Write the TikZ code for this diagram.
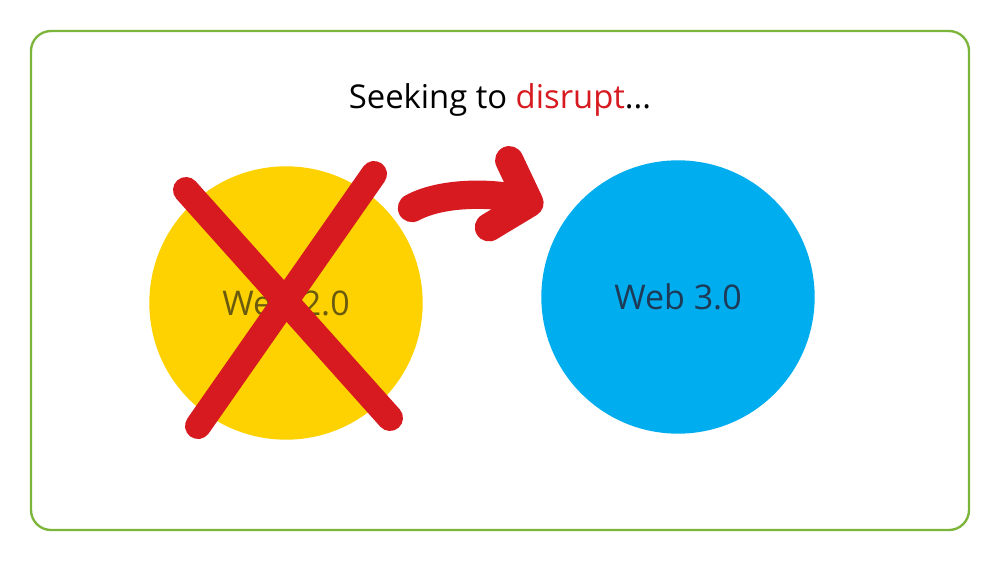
\documentclass[tikz,border=0pt]{standalone}
\usepackage{fontspec}
\setmainfont{Open Sans}
\usepackage{xcolor}
\usepackage{tikz}
\usetikzlibrary{
  arrows.meta,
  positioning,
  calc
}
\definecolor{FrameGreen}{HTML}{7DB53A}
\definecolor{CrayonYellow}{HTML}{FED100}
\definecolor{CrayonBlue}{HTML}{00ADEE}
\definecolor{CrayonRed}{HTML}{D71920}
\definecolor{DarkOlive}{HTML}{6A5A10}
\definecolor{DarkNavy}{HTML}{1D3A57}
\tikzset{
  frame/.style={
    draw=FrameGreen,
    line width=2pt,
    rounded corners=0.6cm
  },
  blob/.style={
    circle,
    inner sep=0pt,
    minimum size=8.2cm,
    font=\fontsize{29}{34}\selectfont
  },
  oldweb/.style={
    blob,
    fill=CrayonYellow,
    text=DarkOlive
  },
  newweb/.style={
    blob,
    fill=CrayonBlue,
    text=DarkNavy
  },
  crossout/.style={
    draw=CrayonRed,
    line width=0.78cm,
    line cap=round
  },
  bigarrow/.style={
    draw=CrayonRed,
    line width=0.85cm,
    line cap=round,
    line join=round,
    -{Straight Barb[length=0.95cm,width=2.1cm,round]}
  }
}
\begin{document}
\begin{tikzpicture}[x=0.03cm,y=-0.03cm]

  \useasboundingbox (0,0) rectangle (1000,563);

  \draw[frame] (31,31) rectangle (969,530);

  \node[
    font=\fontsize{28}{33}\selectfont
  ] (title) at (500,100) {
    Seeking to \textcolor{CrayonRed}{disrupt}...
  };

  \node[oldweb] (web2) at (286,303) {Web 2.0};

  \node[newweb] (web3) at (678,297) {Web 3.0};

  % the cross over the old web
  \coordinate (crossA) at (186,190);
  \coordinate (crossB) at (390,418);
  \coordinate (crossC) at (374,174);
  \coordinate (crossD) at (198,426);
  \draw[crossout] (crossA) -- (crossB);
  \draw[crossout] (crossC) -- (crossD);

  \coordinate (arrowstart) at (412,208);
  \coordinate (arrowend) at (543,207);
  \draw[bigarrow]
  (arrowstart) .. controls (445,190) and (500,194) .. (arrowend);

\end{tikzpicture}
\end{document}
